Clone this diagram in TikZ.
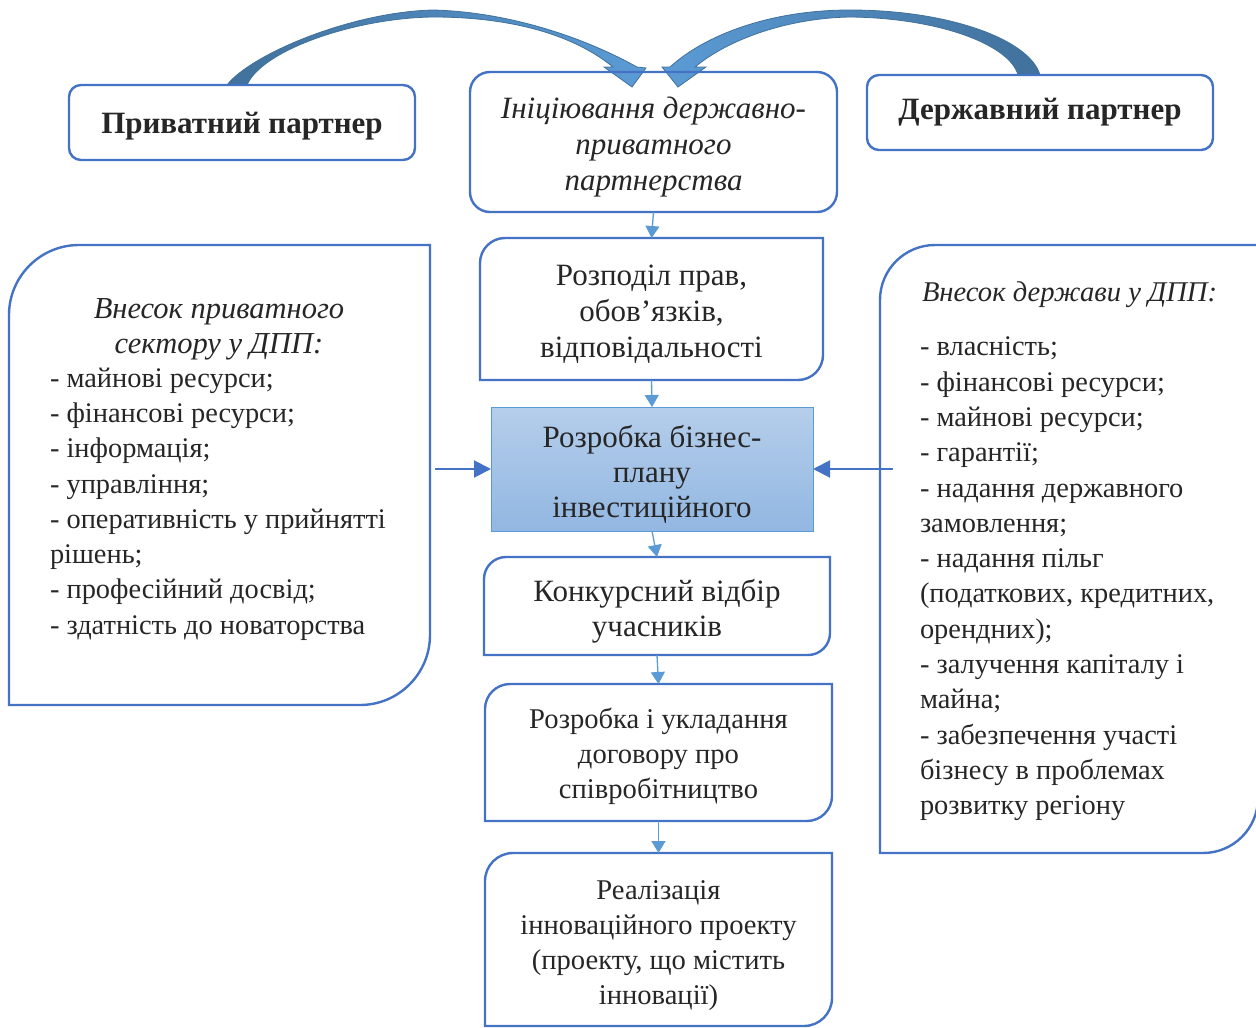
\documentclass[tikz,border=0pt]{standalone}
\usepackage{fontspec}
\setmainfont{Liberation Serif}
\usetikzlibrary{arrows.meta,calc}
\definecolor{bord}{HTML}{4472C4}
\definecolor{lblue}{HTML}{5B9BD5}
\definecolor{dblue}{HTML}{41719C}
\definecolor{txt}{HTML}{262626}
\definecolor{gtop}{HTML}{B5CEEB}
\definecolor{gbot}{HTML}{92B7E2}
\newcommand{\cornerbox}[2]{%
 \draw[frame] ($(#1.north west)+(0,#2)$) -- (#1.south west) -- ($(#1.south east)+(-#2,0)$)
   .. controls +(0.552*#2,0) and +(0,0.552*#2) .. ($(#1.south east)+(0,-#2)$)
   -- (#1.north east) -- ($(#1.north west)+(#2,0)$)
   .. controls +(-0.552*#2,0) and +(0,-0.552*#2) .. ($(#1.north west)+(0,#2)$) -- cycle;}
\begin{document}
\begin{tikzpicture}[x=1pt,y=-1pt,
  frame/.style={draw=bord, line width=2.4pt},
  geo/.style={inner sep=0pt, outer sep=0pt, text=txt, align=center},
  btext/.style={font=\fontsize{31}{36}\selectfont},
  ctext/.style={font=\fontsize{31}{35}\selectfont},
  mtext/.style={font=\fontsize{28.6}{35}\selectfont},
  stext/.style={font=\fontsize{28.4}{35.3}\selectfont},
  flow/.style={draw=lblue, line width=1.3pt, -{Triangle[width=14pt,length=12pt]}},
  side/.style={draw=bord, line width=2pt, -{Triangle[width=17pt,length=17pt]}},
  bigarrow/.style={draw=dblue, line width=0.8pt}]
\useasboundingbox (0,0) rectangle (1256,1028);

% curved block arrows
\path[bigarrow, left color=dblue, right color=lblue]
  (227,85) .. controls (250,55) and (350,12) .. (433,10)
  .. controls (510,12) and (585,38) .. (637,67) -- (646,68) -- (632,87) -- (604,67) -- (613,67)
  .. controls (570,32) and (505,17) .. (433,17)
  .. controls (355,18) and (262,50) .. (247,85) -- cycle;
\path[bigarrow, left color=lblue, right color=dblue]
  (1040,75) .. controls (1030,40) and (950,10) .. (850,10)
  .. controls (770,10) and (705,35) .. (670,67) -- (662,67) -- (678,87) -- (706,67) -- (695,67)
  .. controls (730,38) and (790,18) .. (850,17)
  .. controls (940,18) and (1010,45) .. (1018,75) -- cycle;

% top boxes
\node[geo, frame, rounded corners=12pt, minimum width=346pt, minimum height=75pt] (priv) at (242,122.5) {};
\node[geo, font=\bfseries\fontsize{31}{36}\selectfont] (privt) at ([yshift=-4pt]priv.center) {Приватний партнер};
\node[geo, frame, rounded corners=12pt, minimum width=346pt, minimum height=75pt] (state) at (1040,112.5) {};
\node[geo, font=\bfseries\fontsize{31}{36}\selectfont] (statet) at (state.center) {Державний партнер};
\node[geo, frame, rounded corners=20pt, minimum width=367pt, minimum height=140pt] (init) at (653.5,142) {};
\node[geo, font=\itshape\fontsize{31}{36}\selectfont] (initt) at ([yshift=-5pt]init.center)
  {Ініціювання державно-\\приватного\\партнерства};

% central chain
\node[geo, minimum width=343pt, minimum height=142pt] (rozp) at (651.5,309) {};
\cornerbox{rozp}{25}
\node[geo, btext] (rozpt) at ([yshift=-5pt]rozp.center) {Розподіл прав,\\обов’язків,\\відповідальності};
\node[geo, minimum width=322pt, minimum height=124pt, draw=lblue, line width=1pt,
  top color=gtop, bottom color=gbot] (biz) at (652,469) {};
\node[geo, ctext] (bizt) at ([yshift=-5pt]biz.center) {Розробка бізнес-\\плану\\інвестиційного};
\node[geo, minimum width=346pt, minimum height=98pt] (konk) at (657,606) {};
\cornerbox{konk}{22}
\node[geo, ctext] (konkt) at ([yshift=-5pt]konk.center) {Конкурсний відбір\\учасників};
\node[geo, minimum width=347pt, minimum height=137pt] (dog) at (658.5,752.5) {};
\cornerbox{dog}{25}
\node[geo, mtext] (dogt) at ([yshift=-4pt]dog.center) {Розробка і укладання\\договору про\\співробітництво};
\node[geo, minimum width=347pt, minimum height=173pt] (real) at (658.5,939.5) {};
\cornerbox{real}{28}
\node[geo, mtext] (realt) at ([yshift=-6pt]real.center)
  {Реалізація\\інноваційного проекту\\(проекту, що містить\\інновації)};

% side boxes
\node[geo, minimum width=421pt, minimum height=460pt] (lbox) at (219.5,475) {};
\cornerbox{lbox}{70}
\node[geo, minimum width=378pt, minimum height=608pt] (rbox) at (1069,549) {};
\cornerbox{rbox}{55}

\node[geo, font=\itshape\fontsize{30.5}{35.3}\selectfont] (ltitle) at (219,329.5)
  {Внесок приватного\\сектору у ДПП:};
\node[geo, stext, anchor=west, align=left] (llist) at (50,504)
  {- майнові ресурси;\\- фінансові ресурси;\\- інформація;\\- управління;\\- оперативність у прийнятті\\рішень;\\- професійний досвід;\\- здатність до новаторства};
\node[geo, font=\itshape\fontsize{28.6}{35.3}\selectfont, anchor=west] (rtitle) at (922,295)
  {Внесок держави у ДПП:};
\node[geo, stext, anchor=west, align=left] (rlist) at (920,579)
  {- власність;\\- фінансові ресурси;\\- майнові ресурси;\\- гарантії;\\- надання державного\\замовлення;\\- надання пільг\\(податкових, кредитних,\\орендних);\\- залучення капіталу і\\майна;\\- забезпечення участі\\бізнесу в проблемах\\розвитку регіону};

% connectors
\draw[flow] (init.south) -- (rozp.north);
\draw[flow] (rozp.south) -- (biz.north);
\draw[flow] (biz.south) -- (konk.north);
\draw[flow] (konk.south) -- (dog.north);
\draw[flow] (dog.south) -- (real.north);
\draw[side] ([xshift=5pt]lbox.east |- biz.west) -- (biz.west);
\draw[side] ([xshift=13pt]rbox.west |- biz.east) -- (biz.east);
\end{tikzpicture}
\end{document}
